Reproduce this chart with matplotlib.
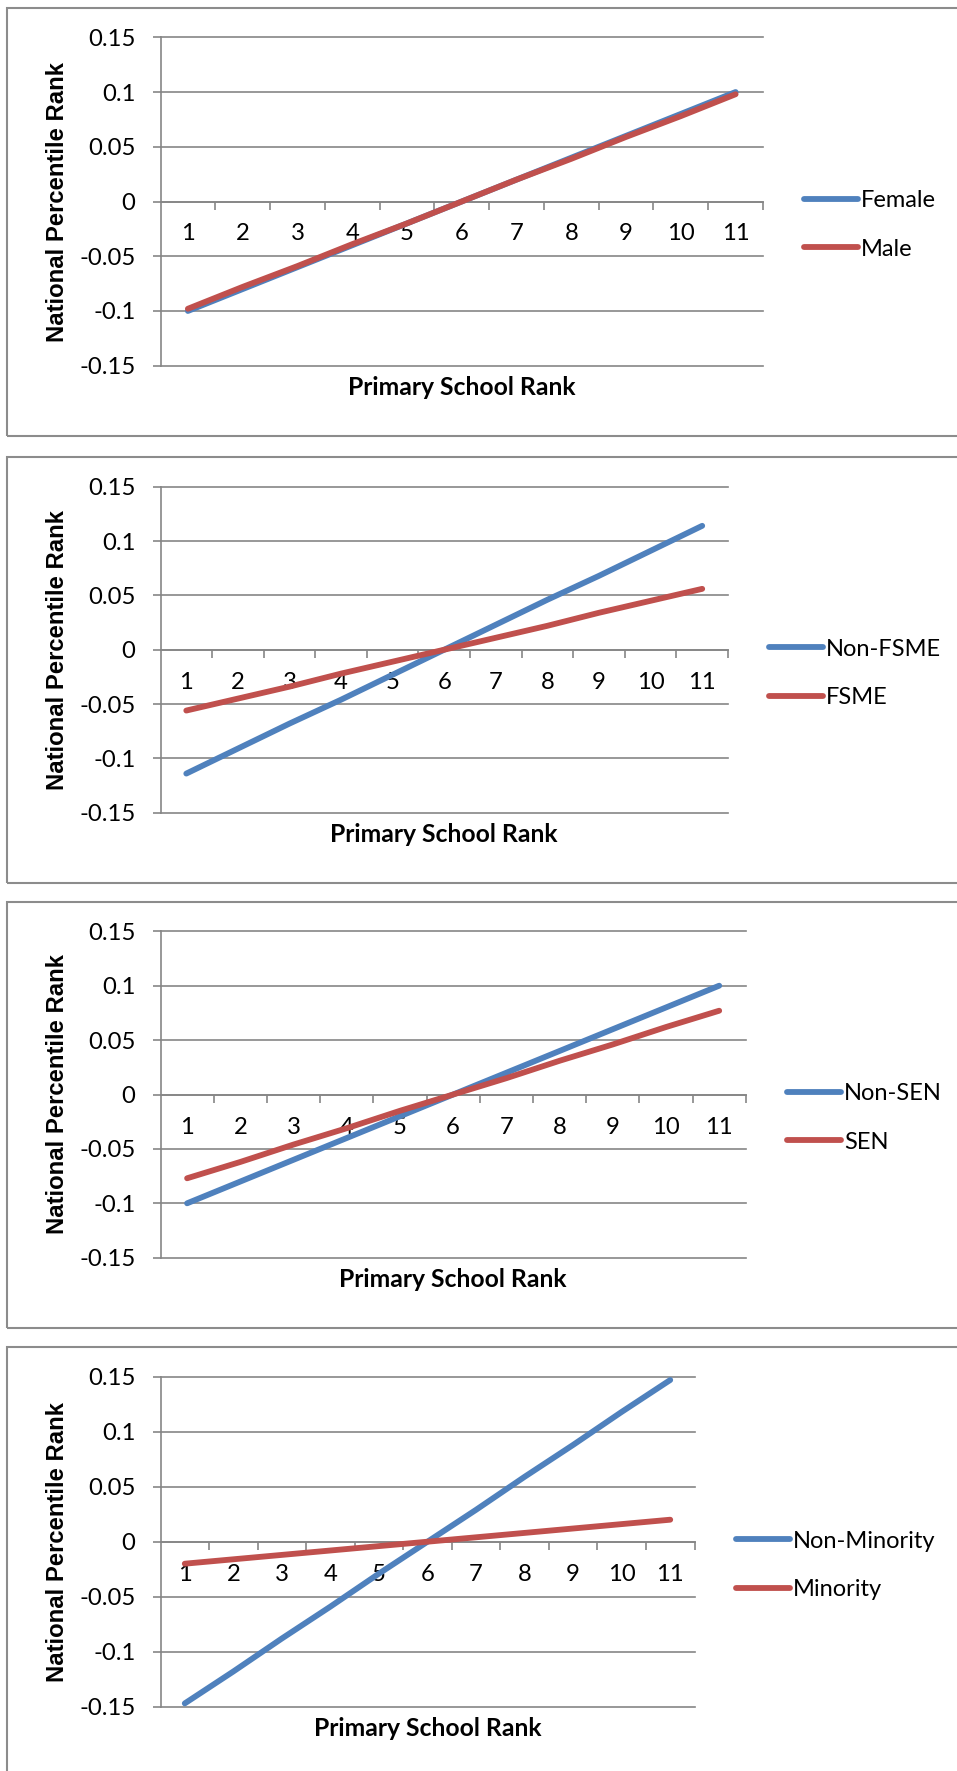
import matplotlib.pyplot as plt
from matplotlib.patches import Rectangle

# data
ranks = [1, 2, 3, 4, 5, 6, 7, 8, 9, 10, 11]
rank_labels = ['1', '2', '3', '4', '5', '6', '7', '8', '9', '10', '11']
y_ticks = [-0.15, -0.1, -0.05, 0, 0.05, 0.1, 0.15]
y_tick_labels = ['-0.15', '-0.1', '-0.05', '0', '0.05', '0.1', '0.15']

female = [-0.100, -0.080, -0.060, -0.040, -0.020, 0.000, 0.020, 0.040, 0.060, 0.080, 0.100]
male = [-0.098, -0.078, -0.059, -0.039, -0.020, 0.000, 0.020, 0.039, 0.059, 0.078, 0.098]

non_fsme = [-0.114, -0.091, -0.068, -0.046, -0.023, 0.000, 0.023, 0.046, 0.068, 0.091, 0.114]
fsme = [-0.056, -0.045, -0.034, -0.022, -0.011, 0.000, 0.011, 0.022, 0.034, 0.045, 0.056]

non_sen = [-0.100, -0.080, -0.060, -0.040, -0.020, 0.000, 0.020, 0.040, 0.060, 0.080, 0.100]
sen = [-0.077, -0.062, -0.046, -0.031, -0.015, 0.000, 0.015, 0.031, 0.046, 0.062, 0.077]

non_minority = [-0.147, -0.118, -0.088, -0.059, -0.029, 0.000, 0.029, 0.059, 0.088, 0.118, 0.147]
minority = [-0.020, -0.016, -0.012, -0.008, -0.004, 0.000, 0.004, 0.008, 0.012, 0.016, 0.020]

panels = [
    (('Female', female), ('Male', male)),
    (('Non-FSME', non_fsme), ('FSME', fsme)),
    (('Non-SEN', non_sen), ('SEN', sen)),
    (('Non-Minority', non_minority), ('Minority', minority)),
]

# layout in pixels: plot left/right/top/bottom, and box top/bottom
W, H = 957, 1771
plot_boxes = [
    (160.5, 763.0, 37.3, 365.7),
    (160.5, 728.0, 486.7, 812.7),
    (160.5, 745.8, 931.3, 1257.7),
    (160.5, 694.5, 1376.7, 1706.7),
]
frames = [(8.3, 435.7), (456.7, 882.7), (902.0, 1327.7), (1346.7, 1800.0)]

BLUE = '#4F81BD'
RED = '#C0504D'
GRAY = '#868686'
PX = 72 / 100  # points per pixel at dpi 100
FS = 17.2

plt.rcParams['font.family'] = ['Lato', 'DejaVu Sans']

fig = plt.figure(figsize=(W / 100, H / 100), dpi=100)

for (top_f, bot_f) in frames:
    fig.patches.append(Rectangle((7.3 / W, 1 - bot_f / H), 1.2, (bot_f - top_f) / H,
                                 transform=fig.transFigure, fill=False,
                                 edgecolor='#8C8C8C', linewidth=1.5))

for (series, (l, r, t, b)) in zip(panels, plot_boxes):
    ax = fig.add_axes([l / W, 1 - b / H, (r - l) / W, (b - t) / H])
    ax.set_xlim(0.5, 11.5)
    ax.set_ylim(-0.15, 0.15)

    lines = []
    for (name, vals), color in zip(series, [BLUE, RED]):
        ln, = ax.plot(ranks, vals, color=color, linewidth=4.2, label=name,
                      solid_capstyle='round', zorder=3)
        lines.append(ln)

    # spines
    for s in ['top', 'right']:
        ax.spines[s].set_visible(False)
    ax.spines['left'].set_color(GRAY)
    ax.spines['left'].set_linewidth(1.2)
    ax.spines['bottom'].set_position(('data', 0))
    ax.spines['bottom'].set_color(GRAY)
    ax.spines['bottom'].set_linewidth(1.2)

    # y axis
    ax.set_yticks(y_ticks)
    ax.set_yticklabels(y_tick_labels)
    ax.tick_params(axis='y', direction='out', length=8 * PX, width=1.2, color=GRAY,
                   pad=17 * PX, labelsize=FS)
    ax.yaxis.grid(True, color=GRAY, linewidth=1.2)
    for gl in ax.get_ygridlines():
        gl.set_clip_on(False)
    ax.set_axisbelow(True)

    # x axis crosses at zero, tick marks between categories
    ax.set_xticks([x + 0.5 for x in ranks])
    ax.set_xticklabels([])
    ax.set_xticks(ranks, minor=True)
    ax.set_xticklabels(rank_labels, minor=True)
    ax.tick_params(axis='x', which='major', direction='out', length=8 * PX, width=1.2, color=GRAY)
    ax.tick_params(axis='x', which='minor', length=0, pad=22 * PX, labelsize=FS)

    ax.annotate('Primary School Rank', xy=(0.5, 0), xycoords='axes fraction',
                xytext=(0, -21.6 * PX), textcoords='offset points',
                ha='center', va='center', fontsize=17.8, fontweight='bold')
    ax.annotate('National Percentile Rank', xy=(0, 0.5), xycoords='axes fraction',
                xytext=(-102.5 * PX, 0), textcoords='offset points',
                ha='center', va='center', rotation=90, fontsize=17.2,
                fontweight='bold', family='Liberation Sans')

    zero_px = (t + b) / 2
    ax.legend(handles=lines, loc='center left',
              bbox_to_anchor=((r + 41) / W, 1 - (zero_px + 23.5) / H),
              bbox_transform=fig.transFigure, frameon=False, borderpad=0,
              borderaxespad=0, handlelength=2.3, handletextpad=0.12,
              labelspacing=1.15, fontsize=17)

fig.savefig('out.png', dpi=100)
